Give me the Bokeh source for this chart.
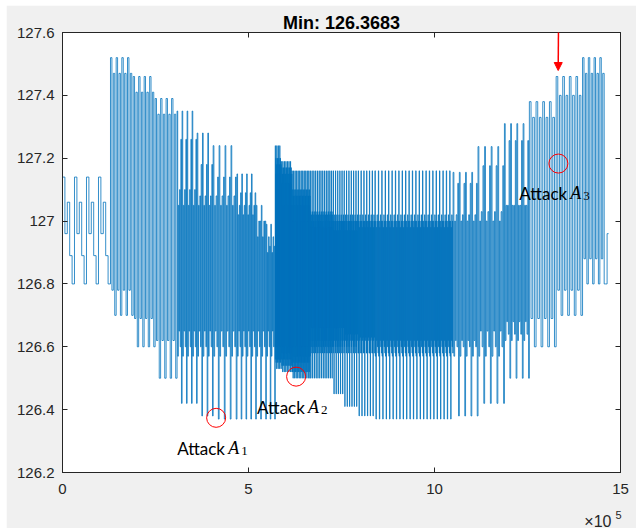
from bokeh.plotting import figure
from bokeh.models import (Range1d, LinearAxis, FixedTicker, Label, Arrow, NormalHead, Spacer,
                          Title, CustomJSTickFormatter)
from bokeh.layouts import row, column
from bokeh.embed import file_html
from bokeh.resources import INLINE

# ---------------- data (x in units of 1e5 samples, y in volts) ----------------
X_SCALE = 1e5
seg_x0 = [0.00, 1.29, 1.90, 2.49, 3.08, 3.62, 4.05, 4.69, 5.21, 5.48,
          5.72, 5.88, 6.17, 6.66, 7.28, 7.57, 7.95, 8.40,
          10.50, 11.17, 11.88, 12.55, 13.27, 13.98, 14.60]
seg_x1 = seg_x0[1:] + [14.68]
seg_pulses = [4, 4, 4, 4, 4, 3, 4, 4, 2, 2,
              4, 7, 12, 13, 5, 6, 6, 23,
              4, 4, 4, 4, 4, 4, 1]
seg_levels = [
    [127.14, 126.96, 127.06, 126.89, 126.80],
    [127.52, 126.78, 127.47, 126.70],
    [127.46, 126.69, 127.41, 126.60],
    [127.39, 126.62, 127.34, 126.50],
    [127.35, 126.57, 127.05, 126.65, 127.10, 126.60, 127.26, 126.42],
    [127.28, 126.57, 127.05, 126.65, 127.08, 126.60, 127.18, 126.38],
    [127.24, 126.57, 127.05, 126.65, 127.08, 126.60, 127.14, 126.37],
    [127.15, 126.57, 127.02, 126.65, 127.05, 126.60, 127.09, 126.37],
    [127.05, 126.57, 126.95, 126.65, 127.00, 126.60, 127.00, 126.37],
    [126.99, 126.57, 126.90, 126.65, 126.95, 126.60, 126.92, 126.37],
    [127.24, 126.56, 127.15, 126.60, 127.20, 126.55, 127.10, 126.60, 127.18, 126.53],
    [127.19, 126.56, 127.12, 126.60, 127.17, 126.54, 127.05, 126.58, 127.15, 126.52],
    [127.16, 126.55, 127.05, 126.52, 127.10, 126.60, 127.00, 126.50, 127.08, 126.57],
    [127.16, 126.62, 127.03, 126.50, 126.98, 126.60, 127.02, 126.66, 127.00, 126.58],
    [127.16, 126.60, 127.00, 126.45, 126.97, 126.62, 127.02, 126.66, 127.00, 126.58],
    [127.16, 126.60, 127.00, 126.41, 126.97, 126.62, 127.02, 126.64, 127.00, 126.58],
    [127.16, 126.58, 127.00, 126.38, 126.98, 126.62, 127.02, 126.63, 127.00, 126.58],
    [127.16, 126.57, 127.00, 126.37, 126.98, 126.62, 127.02, 126.60, 127.00, 126.58],
    [127.155, 126.57, 127.00, 126.62, 127.02, 126.60, 127.12, 126.38],
    [127.237, 126.57, 127.00, 126.65, 127.03, 126.60, 127.176, 126.42],
    [127.31, 126.62, 127.05, 126.68, 127.05, 126.64, 127.256, 126.50],
    [127.38, 126.69, 127.33, 126.60],
    [127.46, 126.78, 127.40, 126.70],
    [127.52, 126.88, 127.47, 126.80],
    [126.80, 126.96],
]

x_ticks = [0, 5, 10, 15]
x_tick_labels = ["0", "5", "10", "15"]
y_ticks = [126.2, 126.4, 126.6, 126.8, 127.0, 127.2, 127.4, 127.6]
y_tick_labels = ["126.2", "126.4", "126.6", "126.8", "127", "127.2", "127.4", "127.6"]

attack_x = [4.13, 6.28, 13.33]
attack_y = [126.374, 126.505, 127.183]
attack_sub = ["1", "2", "3"]
attack_text_x = [3.083, 5.23, 12.28]
attack_text_y = [126.277, 126.408, 127.183 - 0.095]
arrow_x = 13.325
arrow_y1 = 127.479
title_text = "Min: 126.3683"

# ---------------- build the stepped waveform ----------------
xs, ys = [], []
for x0, x1, n, lev in zip(seg_x0, seg_x1, seg_pulses, seg_levels):
    period = (x1 - x0) / n
    m = len(lev)
    for k in range(n):
        for j, v in enumerate(lev):
            xa = x0 + k * period + j * period / m
            xs += [xa * X_SCALE, (xa + period / m) * X_SCALE]
            ys += [v, v]

AX = "#262626"
p = figure(width=630, height=523, output_backend="svg", toolbar_location=None,
           x_range=Range1d(0, 15 * X_SCALE), y_range=Range1d(126.2, 127.6),
           min_border_left=56, min_border_right=16, min_border_top=27, min_border_bottom=56,
           background_fill_color="white", border_fill_color="#f0f0f0",
           outline_line_color=AX, outline_line_width=1)
p.grid.visible = False
p.title.text = title_text
p.title.align = "center"
p.title.text_font = "Liberation Sans"
p.title.text_font_style = "bold"
p.title.text_font_size = "18px"
p.title.text_color = "black"
p.title.standoff = 0
p.title.offset = -2

p.line(xs, ys, line_color="#0072BD", line_width=0.8)

blank = CustomJSTickFormatter(code="return ''")

def style_axis(ax, ticks, labels=None):
    ax.ticker = FixedTicker(ticks=ticks)
    ax.axis_line_color = AX
    ax.major_tick_line_color = AX
    ax.major_tick_in = 5
    ax.major_tick_out = 0
    ax.minor_tick_line_color = None
    ax.major_label_text_font = "Liberation Sans"
    ax.major_label_text_font_size = "15px"
    ax.major_label_text_color = AX
    if labels is None:
        ax.formatter = blank
        ax.major_label_standoff = 0
    else:
        ax.major_label_overrides = labels

xt = [t * X_SCALE for t in x_ticks]
style_axis(p.xaxis[0], xt, {int(t * X_SCALE): l for t, l in zip(x_ticks, x_tick_labels)})
p.xaxis[0].major_label_standoff = 11
style_axis(p.yaxis[0], y_ticks, {t: l for t, l in zip(y_ticks, y_tick_labels)})
p.yaxis[0].major_label_standoff = 8

top_ax = LinearAxis()
style_axis(top_ax, xt)
p.add_layout(top_ax, "above")
right_ax = LinearAxis()
style_axis(right_ax, y_ticks)
p.add_layout(right_ax, "right")

# exponent of the x axis (superscript 5 above-right of "x10")
p.add_layout(Title(text="5", align="right", text_font="Liberation Sans", text_font_size="11px",
                   text_font_style="normal", text_color=AX, standoff=-45, offset=-1), "below")
p.add_layout(Title(text="\u00d710", align="right", text_font="Liberation Sans",
                   text_font_size="16px", text_font_style="normal", text_color=AX,
                   standoff=-66, offset=9), "below")

# attack markers
p.scatter(x=[a * X_SCALE for a in attack_x], y=attack_y, size=19, marker="circle",
          fill_color=None, line_color="red", line_width=1)

for tx, ty, sub in zip(attack_text_x, attack_text_y, attack_sub):
    p.add_layout(Label(x=tx * X_SCALE, y=ty, text="Attack", text_font="Lato",
                       text_font_size="17px", text_color="black", text_baseline="alphabetic"))
    p.add_layout(Label(x=tx * X_SCALE, y=ty, x_offset=51, text="A", text_font="Liberation Serif",
                       text_font_style="italic", text_font_size="18px", text_color="black",
                       text_baseline="alphabetic"))
    p.add_layout(Label(x=tx * X_SCALE, y=ty, x_offset=64, y_offset=-3, text=sub,
                       text_font="Liberation Serif", text_font_size="13px", text_color="black",
                       text_baseline="alphabetic"))

p.add_layout(Arrow(end=NormalHead(size=8, fill_color="red", line_color="red"),
                   x_start=552, y_start=18, start_units="canvas",
                   x_end=arrow_x * X_SCALE, y_end=arrow_y1,
                   line_color="red", line_width=1.5))

layout = row(Spacer(width=6), column(Spacer(height=5), p))
open("out.html", "w").write(file_html(layout, INLINE))
